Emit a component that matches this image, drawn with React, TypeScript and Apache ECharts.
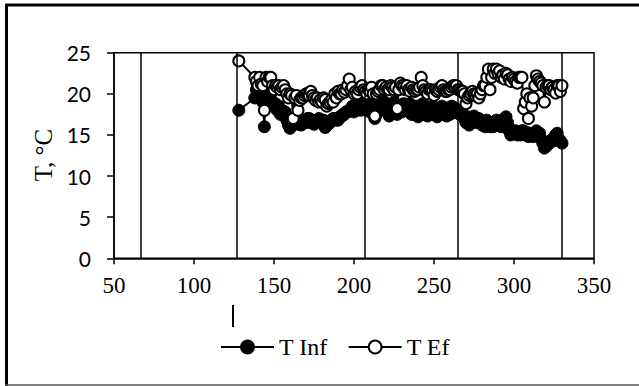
import React, { useEffect, useRef } from "react";
import * as echarts from "echarts";

const days = [
  128,
  138, 139, 140, 141, 142, 143, 144, 145, 146, 147,
  148, 149, 150, 151, 152, 153, 154, 155, 156, 157,
  158, 159, 160, 161, 162, 163, 164, 165, 166, 167,
  168, 169, 170, 171, 172, 173, 174, 175, 176, 177,
  178, 179, 180, 181, 182, 183, 184, 185, 186, 187,
  188, 189, 190, 191, 192, 193, 194, 195, 196, 197,
  198, 199, 200, 201, 202, 203, 204, 205, 206, 207,
  208, 209, 210, 211, 212, 213, 214, 215, 216, 217,
  218, 219, 220, 221, 222, 223, 224, 225, 226, 227,
  228, 229, 230, 231, 232, 233, 234, 235, 236, 237,
  238, 239, 240, 241, 242, 243, 244, 245, 246, 247,
  248, 249, 250, 251, 252, 253, 254, 255, 256, 257,
  258, 259, 260, 261, 262, 263, 264, 265, 266, 267,
  268, 269, 270, 271, 272, 273, 274, 275, 276, 277,
  278, 279, 280, 281, 282, 283, 284, 285, 286, 287,
  288, 289, 290, 291, 292, 293, 294, 295, 296, 297,
  298, 299, 300, 301, 302, 303, 304, 305, 306, 307,
  308, 309, 310, 311, 312, 313, 314, 315, 316, 317,
  318, 319, 320, 321, 322, 323, 324, 325, 326, 327,
  328, 329, 330,
];

const tInf = [
  18,
  19.5, 20.5, 21, 20, 19.5, 19, 16, 21.5, 20, 21,
  20, 19, 18.5, 18.8, 18, 18.5, 17.5, 18, 17.5, 17.8,
  16.8, 16.2, 15.8, 16.3, 17, 16.8, 16.5, 16.3, 16.5, 16.2,
  16.8, 16.5, 16.5, 17, 17, 16.5, 16.8, 16.3, 16.5, 16.8,
  17, 16.8, 16.5, 16.8, 15.9, 16.2, 16.3, 16.5, 16.8, 17,
  17, 16.8, 16.8, 17.2, 17.2, 17.5, 17.5, 17.8, 17.8, 18,
  18, 18.5, 17.8, 18.2, 18.2, 18.8, 18, 18.5, 18.5, 19,
  18, 18.5, 17.8, 18.8, 18.2, 17, 17.5, 18.5, 18, 18.8,
  18.5, 19, 18, 18.5, 17.3, 18.5, 18, 19, 18.5, 17.5,
  18.5, 18, 17.8, 18.8, 18.3, 18.5, 18, 18.8, 17.5, 18.5,
  17.8, 18.5, 17.2, 18.3, 18, 18.8, 17.5, 18.3, 17.3, 18,
  18, 18.5, 17.5, 18.3, 17.2, 18, 17.5, 18.5, 17.8, 18.3,
  17.3, 18, 17.5, 18.5, 17.8, 18.3, 18, 17.8, 17.5, 17.8,
  17.3, 17, 16.5, 17.2, 16.2, 17, 16.8, 17.3, 16.5, 17,
  17, 16.5, 16.2, 16.5, 16, 16.8, 16.2, 16, 16.5, 16,
  16.3, 16.8, 16.5, 16.2, 16, 16.5, 17, 17.2, 16.5, 15.5,
  15, 15.5, 15.2, 15.5, 15, 15.3, 15, 15.5, 15.5, 15,
  15.3, 14.8, 15.2, 15, 14.8, 15.2, 15.5, 15, 15.2, 14.5,
  14, 13.4, 13.6, 13.8, 14, 14.3, 14.5, 14.3, 15, 15.2,
  14.5, 14.3, 14,
];

const tEf = [
  24,
  22, 21.5, 21, 22, 21.2, 21, 18, 22, 21.5, 22,
  22, 21, 20.5, 21, 20.8, 21, 20.5, 20.8, 21, 20.5,
  20, 19.5, 20, 19.8, 17, 19.5, 19.8, 18, 19.2, 19.5,
  19.5, 19.8, 20, 20, 19.8, 20.3, 19.8, 19.5, 19.2, 19.5,
  19, 19.3, 19, 19.5, 19.3, 18.5, 18.8, 19, 19.3, 19,
  20, 19.5, 20.3, 20, 20, 20.5, 20.2, 20.5, 21, 21.8,
  20.5, 20.8, 20, 20.3, 20, 20.5, 20.8, 21, 20.5, 20.3,
  20, 20.5, 20.3, 20.8, 20, 17.3, 20, 20.3, 20.5, 21,
  21, 20.5, 20.8, 20.5, 20.5, 21, 20.8, 20.5, 20.8, 18.2,
  20.5, 21.3, 21, 20.8, 20.5, 21, 20.5, 20.3, 20.8, 20.5,
  20.3, 20.5, 20.5, 20.8, 22, 21, 20.5, 20.3, 20, 20.5,
  20.5, 20.3, 19.8, 20.5, 20.3, 20.5, 20.8, 21, 20.5, 20.3,
  20.3, 20.5, 20.5, 20.8, 21, 20.8, 21, 20.5, 20.5, 20.3,
  20.3, 20, 18.8, 19.5, 19.8, 20, 20.3, 20, 19.8, 20,
  19.5, 20, 20.5, 21, 21, 22, 23, 20.5, 22, 23,
  22.5, 23, 22.5, 22.8, 22, 22.3, 21.8, 22.5, 22.3, 21.8,
  21.5, 22, 21.8, 21.5, 21.3, 22, 22, 22, 18.2, 19,
  20, 17, 19.5, 18.5, 19.5, 21, 22.2, 21.8, 21.5, 21.3,
  21, 19, 20.8, 21, 21, 20.5, 20.8, 20.5, 20.1, 21,
  21, 20.3, 21,
];

const refLines = [67, 127, 207, 265, 330];

const seriesNames = ["T Inf", "T Ef"];
const yTitle = "T, °C";

export default function App() {
  const ref = useRef<HTMLDivElement>(null);
  useEffect(() => {
    if (!ref.current) return;
    const chart = echarts.init(ref.current, null, { renderer: "svg" });
    const serif = "Liberation Serif";
    const sans = "Lato";
    chart.setOption({
      animation: false,
      backgroundColor: "#fff",
      grid: {
        left: 114,
        right: 45,
        top: 52.7,
        bottom: 127.7,
        show: true,
        borderColor: "#000",
        borderWidth: 1.5,
        containLabel: false,
      },
      xAxis: {
        type: "value",
        min: 50,
        max: 350,
        interval: 50,
        splitLine: { show: false },
        axisLine: { show: true, lineStyle: { color: "#000", width: 1.5 } },
        axisTick: { show: true, length: 6, lineStyle: { color: "#000", width: 1.5 } },
        axisLabel: { color: "#000", fontFamily: serif, fontSize: 23, margin: 16 },
      },
      yAxis: {
        type: "value",
        min: 0,
        max: 25,
        interval: 5,
        splitLine: { show: false },
        axisLine: { show: true, lineStyle: { color: "#000", width: 1.5 } },
        axisTick: { show: true, length: 7, lineStyle: { color: "#000", width: 1.5 } },
        axisLabel: { color: "#000", fontFamily: sans, fontSize: 21, margin: 23 },
      },
      legend: {
        data: seriesNames,
        left: 215,
        top: 330,
        itemWidth: 53,
        itemHeight: 16,
        itemGap: 20,
        textStyle: { color: "#000", fontFamily: serif, fontSize: 24 },
      },
      series: [
        {
          name: "refs",
          type: "line",
          data: [],
          z: 1,
          markLine: {
            silent: true,
            symbol: ["none", "none"],
            label: { show: false },
            lineStyle: { color: "#000", width: 1.5, type: "solid" },
            data: refLines.map((v) => ({ xAxis: v })),
          },
        },
        {
          name: seriesNames[0],
          type: "line",
          z: 2,
          data: days.map((d, i) => [d, tInf[i]]),
          symbol: "circle",
          symbolSize: 12,
          lineStyle: { color: "#000", width: 2 },
          itemStyle: { color: "#000", borderColor: "#000", borderWidth: 1 },
        },
        {
          name: seriesNames[1],
          type: "line",
          z: 3,
          data: days.map((d, i) => [d, tEf[i]]),
          symbol: "circle",
          symbolSize: 11,
          lineStyle: { color: "#000", width: 2 },
          itemStyle: { color: "#fff", borderColor: "#000", borderWidth: 2 },
        },
      ],
      graphic: [
        {
          type: "text",
          x: 43,
          y: 155,
          rotation: Math.PI / 2,
          style: {
            text: yTitle,
            fill: "#000",
            font: "25px 'Liberation Serif', serif",
            textAlign: "center",
            textVerticalAlign: "middle",
          },
        },
        { type: "line", shape: { x1: 233, y1: 305, x2: 233, y2: 327 }, style: { stroke: "#000", lineWidth: 2 } },
        { type: "line", shape: { x1: 5, y1: 5, x2: 639, y2: 5 }, style: { stroke: "#000", lineWidth: 3 } },
        { type: "line", shape: { x1: 6.5, y1: 4, x2: 6.5, y2: 386 }, style: { stroke: "#000", lineWidth: 3 } },
        { type: "line", shape: { x1: 5, y1: 385, x2: 639, y2: 385 }, style: { stroke: "#555", lineWidth: 1.5 } },
      ],
    });
    return () => chart.dispose();
  }, []);
  return (
    <div
      ref={ref}
      style={{ position: "absolute", left: 0, top: 0, width: 639, height: 386 }}
    />
  );
}
